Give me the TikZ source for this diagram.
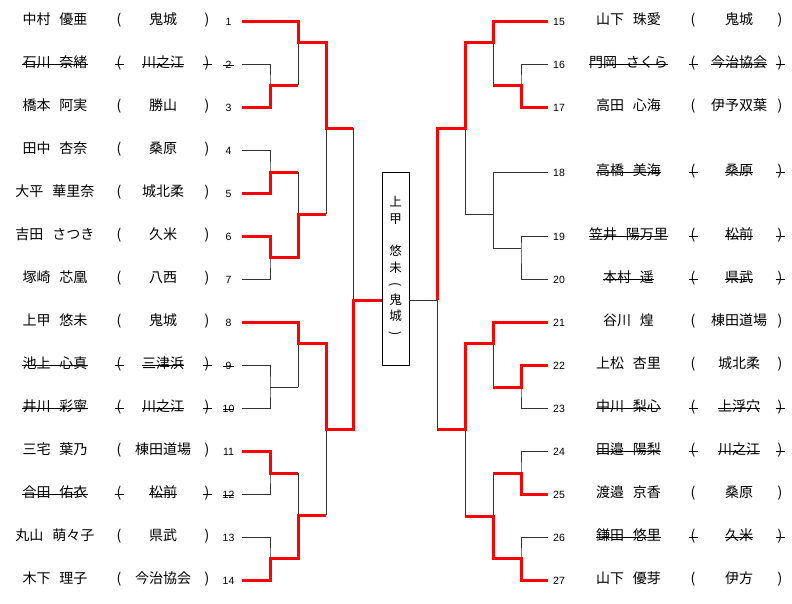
\documentclass[tikz,border=0pt]{standalone}
\usepackage{fontspec}
\setmainfont{Noto Sans CJK JP}
\newfontfamily\numfont{Liberation Sans}
\newcommand{\nmgap}{\hspace{9pt}}
\newcommand{\LeftEntry}[4]{%
  \node[jp] (ln#1) at (55,#2) {#3};
  \node[jp] (lo#1) at (119,#2) {(};
  \node[jp] (lc#1) at (163,#2) {#4};
  \node[jp] (lp#1) at (207,#2) {)};
  \node[num] (lk#1) at (228.5,{#2+1}) {#1};
}
\newcommand{\RightEntry}[4]{%
  \node[num,anchor=west] (rk#1) at (553,{#2+1}) {#1};
  \node[jp] (rn#1) at (628.5,#2) {#3};
  \node[jp] (ro#1) at (693,#2) {(};
  \node[jp] (rc#1) at (739,#2) {#4};
  \node[jp] (rp#1) at (780,#2) {)};
}
\newcommand{\LeftStrike}[1]{%
  \draw[strike] (ln#1.west) -- (ln#1.east);
  \draw[strike] ([xshift=-4.5pt]lo#1.center) -- ([xshift=4.5pt]lo#1.center);
  \draw[strike] (lc#1.west) -- (lc#1.east);
  \draw[strike] ([xshift=-4.5pt]lp#1.center) -- ([xshift=4.5pt]lp#1.center);
  \draw[strike] ([xshift=-5.5pt]lk#1.center) -- ([xshift=5.5pt]lk#1.center);
}
\newcommand{\RightStrike}[1]{%
  \draw[strike] (rn#1.west) -- (rn#1.east);
  \draw[strike] ([xshift=-4.5pt]ro#1.center) -- ([xshift=4.5pt]ro#1.center);
  \draw[strike] (rc#1.west) -- (rc#1.east);
  \draw[strike] ([xshift=-4.5pt]rp#1.center) -- ([xshift=4.5pt]rp#1.center);
}
\begin{document}
\begin{tikzpicture}[x=1pt,y=-1pt,
  bline/.style={draw=black!80,line width=0.9pt},
  wline/.style={draw=red,line width=3pt,line join=miter},
  jp/.style={inner sep=0pt,text height=0.83em,text depth=0.07em,font=\fontsize{14}{14}\selectfont},
  num/.style={inner sep=0pt,text height=0.716em,text depth=0pt,font=\numfont\fontsize{10.5}{10.5}\selectfont},
  strike/.style={draw=black,line width=0.8pt},
  vch/.style={inner sep=0pt,text height=0.83em,text depth=0.07em,font=\fontsize{12.5}{12.5}\selectfont}
]
\useasboundingbox (0,0) rectangle (792,603);
\fill[white] (0,0) rectangle (792,603);

% ---------- columns ----------
\coordinate (xL1) at (270,0);
\coordinate (xL2) at (298,0);
\coordinate (xL3) at (326,0);
\coordinate (xL4) at (353,0);
\coordinate (xR1) at (521,0);
\coordinate (xR2) at (493,0);
\coordinate (xR3) at (465,0);
\coordinate (xR4) at (437,0);

% ---------- left entrant line starts ----------
\coordinate (A1) at (242,21);
\coordinate (A2) at (242,64);
\coordinate (A3) at (242,107);
\coordinate (A4) at (242,150);
\coordinate (A5) at (242,193);
\coordinate (A6) at (242,236);
\coordinate (A7) at (242,279);
\coordinate (A8) at (242,322);
\coordinate (A9) at (242,365);
\coordinate (A10) at (242,408);
\coordinate (A11) at (242,451);
\coordinate (A12) at (242,494);
\coordinate (A13) at (242,537);
\coordinate (A14) at (242,580);

% left junctions
\coordinate (m23) at (270,85);
\coordinate (m45) at (270,172);
\coordinate (m67) at (270,257);
\coordinate (m910) at (270,387);
\coordinate (m1112) at (270,473);
\coordinate (m1314) at (270,558);
\coordinate (q1) at (298,42);
\coordinate (q2) at (298,214);
\coordinate (q3) at (298,343);
\coordinate (q4) at (298,515);
\coordinate (s1) at (326,128);
\coordinate (s2) at (326,429);
\coordinate (f) at (353,300);

% ---------- right entrant line starts ----------
\coordinate (B15) at (548,21);
\coordinate (B16) at (548,64);
\coordinate (B17) at (548,107);
\coordinate (B18) at (548,172);
\coordinate (B19) at (548,236);
\coordinate (B20) at (548,279);
\coordinate (B21) at (548,322);
\coordinate (B22) at (548,365);
\coordinate (B23) at (548,408);
\coordinate (B24) at (548,451);
\coordinate (B25) at (548,494);
\coordinate (B26) at (548,537);
\coordinate (B27) at (548,580);

% right junctions
\coordinate (n1617) at (521,85);
\coordinate (n1920) at (521,248);
\coordinate (n2223) at (521,387);
\coordinate (n2425) at (521,473);
\coordinate (n2627) at (521,558);
\coordinate (p1) at (493,42);
\coordinate (p2) at (493,214);
\coordinate (p3) at (493,343);
\coordinate (p4) at (493,516);
\coordinate (t1) at (465,128);
\coordinate (t2) at (465,429);
\coordinate (g) at (437,300);

% ---------- champion box ----------
\node[draw=black,line width=0.9pt,minimum width=27pt,minimum height=193pt,inner sep=0pt] (champ) at (395.5,268.5) {};
\node[vch] (v1) at (395.5,203) {上};
\node[vch] (v2) at (395.5,219.3) {甲};
\node[vch] (v3) at (395.5,251.9) {悠};
\node[vch] (v4) at (395.5,268.2) {未};
\node[vch,rotate=-90] (v5) at (395.5,284.5) {(};
\node[vch] (v6) at (395.5,300.8) {鬼};
\node[vch] (v7) at (395.5,317.1) {城};
\node[vch,rotate=-90] (v8) at (395.5,333.4) {)};

% ---------- left bracket (thin) ----------
\draw[bline] (A1) -- (A1 -| xL2);
\draw[bline] (A2) -| (m23) |- (A3);
\draw[bline] (m23) -- (m23 -| xL2);
\draw[bline] (A1 -| xL2) -- (m23 -| xL2);
\draw[bline] (q1) -- (q1 -| xL3);
\draw[bline] (A4) -| (m45) |- (A5);
\draw[bline] (m45) -- (m45 -| xL2);
\draw[bline] (A6) -| (m67) |- (A7);
\draw[bline] (m67) -- (m67 -| xL2);
\draw[bline] (m45 -| xL2) -- (m67 -| xL2);
\draw[bline] (q2) -- (q2 -| xL3);
\draw[bline] (q1 -| xL3) -- (q2 -| xL3);
\draw[bline] (s1) -- (s1 -| xL4);
\draw[bline] (A8) -- (A8 -| xL2);
\draw[bline] (A9) -| (m910) |- (A10);
\draw[bline] (m910) -- (m910 -| xL2);
\draw[bline] (A8 -| xL2) -- (m910 -| xL2);
\draw[bline] (q3) -- (q3 -| xL3);
\draw[bline] (A11) -| (m1112) |- (A12);
\draw[bline] (m1112) -- (m1112 -| xL2);
\draw[bline] (A13) -| (m1314) |- (A14);
\draw[bline] (m1314) -- (m1314 -| xL2);
\draw[bline] (m1112 -| xL2) -- (m1314 -| xL2);
\draw[bline] (q4) -- (q4 -| xL3);
\draw[bline] (q3 -| xL3) -- (q4 -| xL3);
\draw[bline] (s2) -- (s2 -| xL4);
\draw[bline] (s1 -| xL4) -- (s2 -| xL4);
\draw[bline] (f) -- (f -| champ.west);

% ---------- right bracket (thin) ----------
\draw[bline] (B15) -- (B15 -| xR2);
\draw[bline] (B16) -| (n1617) |- (B17);
\draw[bline] (n1617) -- (n1617 -| xR2);
\draw[bline] (B15 -| xR2) -- (n1617 -| xR2);
\draw[bline] (p1) -- (p1 -| xR3);
\draw[bline] (B18) -- (B18 -| xR2);
\draw[bline] (B19) -| (n1920) |- (B20);
\draw[bline] (n1920) -- (n1920 -| xR2);
\draw[bline] (B18 -| xR2) -- (n1920 -| xR2);
\draw[bline] (p2) -- (p2 -| xR3);
\draw[bline] (p1 -| xR3) -- (p2 -| xR3);
\draw[bline] (t1) -- (t1 -| xR4);
\draw[bline] (B21) -- (B21 -| xR2);
\draw[bline] (B22) -| (n2223) |- (B23);
\draw[bline] (n2223) -- (n2223 -| xR2);
\draw[bline] (B21 -| xR2) -- (n2223 -| xR2);
\draw[bline] (p3) -- (p3 -| xR3);
\draw[bline] (B24) -| (n2425) |- (B25);
\draw[bline] (n2425) -- (n2425 -| xR2);
\draw[bline] (B26) -| (n2627) |- (B27);
\draw[bline] (n2627) -- (n2627 -| xR2);
\draw[bline] (n2425 -| xR2) -- (n2627 -| xR2);
\draw[bline] (p4) -- (p4 -| xR3);
\draw[bline] (p3 -| xR3) -- (p4 -| xR3);
\draw[bline] (t2) -- (t2 -| xR4);
\draw[bline] (t1 -| xR4) -- (t2 -| xR4);
\draw[bline] (g) -- (g -| champ.east);

% ---------- winners (red) ----------
\draw[wline] (A1) -- (A1 -| xL2) -- (q1) -- (q1 -| xL3) -- (s1) -- (s1 -| xL4);
\draw[wline] (A3) -| (m23) -- (m23 -| xL2);
\draw[wline] (A5) -| (m45) -- (m45 -| xL2);
\draw[wline] (A6) -| (m67) -- (m67 -| xL2) -- (q2) -- (q2 -| xL3);
\draw[wline] (A8) -- (A8 -| xL2) -- (q3) -- (q3 -| xL3) -- (s2) -- (s2 -| xL4) -- (f) -- (f -| champ.west);
\draw[wline] (A11) -| (m1112) -- (m1112 -| xL2);
\draw[wline] (A14) -| (m1314) -- (m1314 -| xL2) -- (q4) -- (q4 -| xL3);

\draw[wline] (B15) -- (B15 -| xR2) -- (p1) -- (p1 -| xR3) -- (t1) -- (t1 -| xR4) -- (g);
\draw[wline] (B17) -| (n1617) -- (n1617 -| xR2);
\draw[wline] (B21) -- (B21 -| xR2) -- (p3) -- (p3 -| xR3) -- (t2) -- (t2 -| xR4);
\draw[wline] (B22) -| (n2223) -- (n2223 -| xR2);
\draw[wline] (B25) -| (n2425) -- (n2425 -| xR2);
\draw[wline] (B27) -| (n2627) -- (n2627 -| xR2) -- (p4) -- (p4 -| xR3);

% ---------- left entrants ----------
\LeftEntry{1}{21}{中村\nmgap 優亜}{鬼城}
\LeftEntry{2}{64}{石川\nmgap 奈緒}{川之江}
\LeftEntry{3}{107}{橋本\nmgap 阿実}{勝山}
\LeftEntry{4}{150}{田中\nmgap 杏奈}{桑原}
\LeftEntry{5}{193}{大平\nmgap 華里奈}{城北柔}
\LeftEntry{6}{236}{吉田\nmgap さつき}{久米}
\LeftEntry{7}{279}{塚崎\nmgap 芯凰}{八西}
\LeftEntry{8}{322}{上甲\nmgap 悠未}{鬼城}
\LeftEntry{9}{365}{池上\nmgap 心真}{三津浜}
\LeftEntry{10}{408}{井川\nmgap 彩寧}{川之江}
\LeftEntry{11}{451}{三宅\nmgap 葉乃}{棟田道場}
\LeftEntry{12}{494}{合田\nmgap 佑衣}{松前}
\LeftEntry{13}{537}{丸山\nmgap 萌々子}{県武}
\LeftEntry{14}{580}{木下\nmgap 理子}{今治協会}
\LeftStrike{2}
\LeftStrike{9}
\LeftStrike{10}
\LeftStrike{12}

% ---------- right entrants ----------
\RightEntry{15}{21}{山下\nmgap 珠愛}{鬼城}
\RightEntry{16}{64}{門岡\nmgap さくら}{今治協会}
\RightEntry{17}{107}{高田\nmgap 心海}{伊予双葉}
\RightEntry{18}{172}{高橋\nmgap 美海}{桑原}
\RightEntry{19}{236}{笠井\nmgap 陽万里}{松前}
\RightEntry{20}{279}{本村\nmgap 遥}{県武}
\RightEntry{21}{322}{谷川\nmgap 煌}{棟田道場}
\RightEntry{22}{365}{上松\nmgap 杏里}{城北柔}
\RightEntry{23}{408}{中川\nmgap 梨心}{上浮穴}
\RightEntry{24}{451}{田邉\nmgap 陽梨}{川之江}
\RightEntry{25}{494}{渡邉\nmgap 京香}{桑原}
\RightEntry{26}{537}{鎌田\nmgap 悠里}{久米}
\RightEntry{27}{580}{山下\nmgap 優芽}{伊方}
\RightStrike{16}
\RightStrike{18}
\RightStrike{19}
\RightStrike{20}
\RightStrike{23}
\RightStrike{24}
\RightStrike{26}
\end{tikzpicture}
\end{document}
